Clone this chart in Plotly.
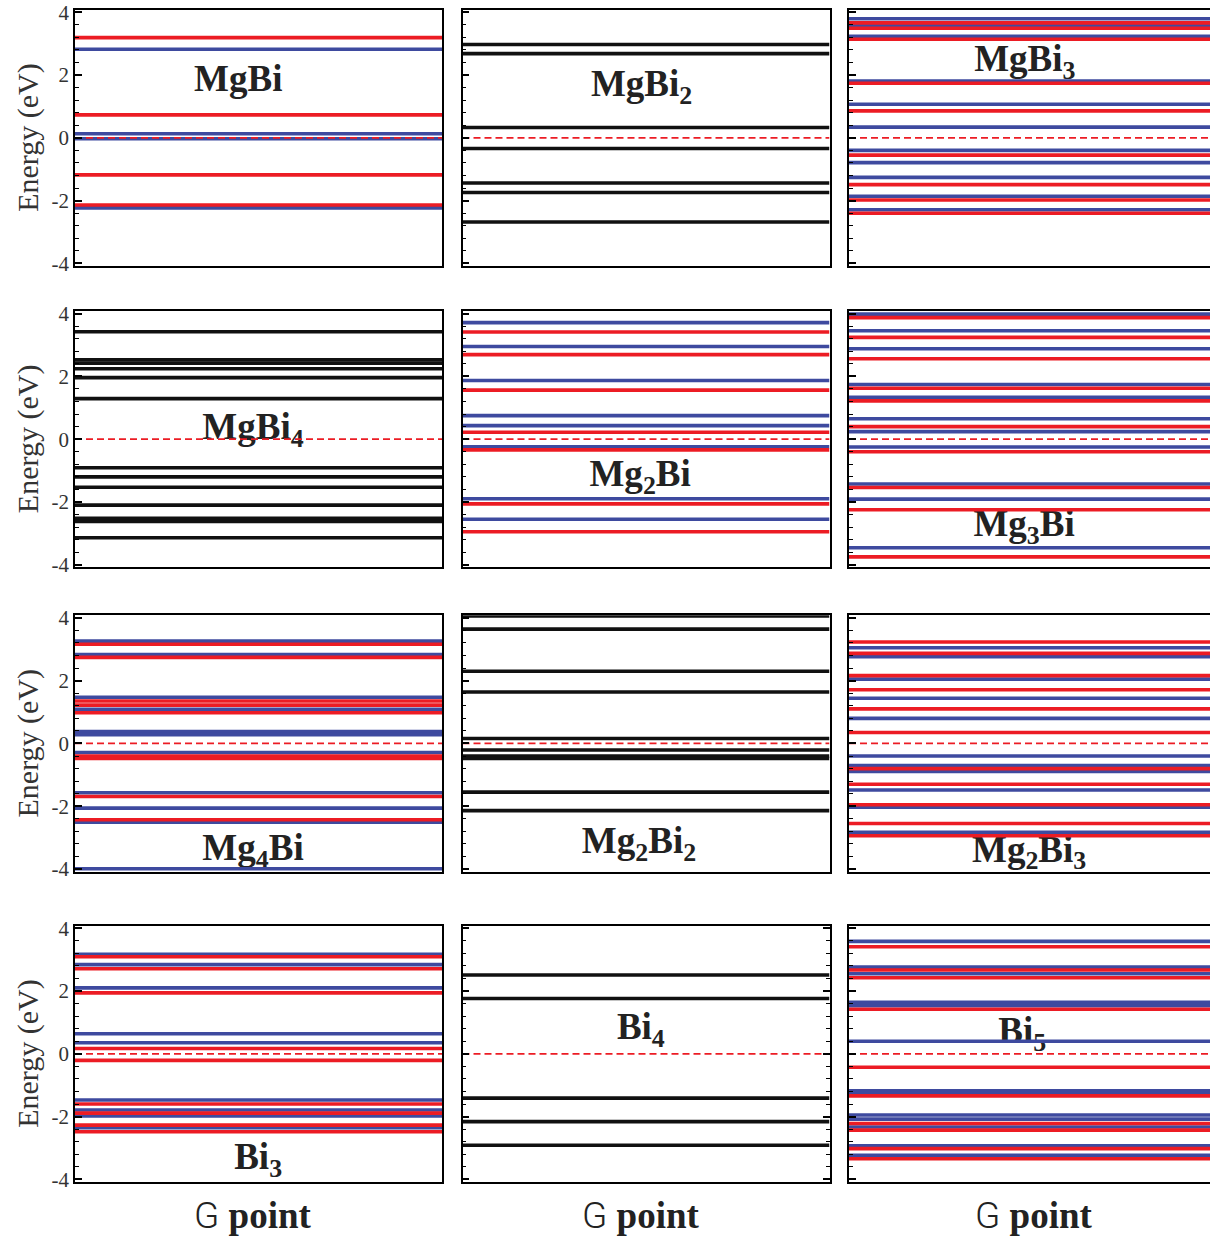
import plotly.graph_objects as go

W, H = 1210, 1236

# ---------------- data: energy levels (eV) at the G point ----------------
mgbi_red = [3.19, 0.73, -1.18, -2.14]
mgbi_blue = [2.82, 0.13, -0.03, -2.23]
mgbi2_black = [2.97, 2.68, 0.33, -0.34, -1.44, -1.74, -2.68]
mgbi3_red = [3.66, 3.49, 3.14, 1.74, 0.86, -0.55, -1.49, -1.98, -2.40]
mgbi3_blue = [3.79, 3.58, 3.23, 1.81, 1.07, 0.34, -0.40, -0.79, -1.26, -1.86, -2.29]
mgbi4_black = [3.42, 2.53, 2.42, 2.24, 1.96, 1.29, -0.91, -1.20, -1.53, -2.10, -2.52, -2.62, -3.14]
mg2bi_red = [3.41, 2.69, 1.56, 0.22, -0.34, -2.06, -2.95]
mg2bi_blue = [3.71, 2.95, 1.87, 0.75, 0.43, -0.24, -1.90, -2.55]
mg3bi_red = [3.87, 3.24, 2.56, 1.62, 1.22, 0.40, -0.40, -1.54, -2.25, -3.75]
mg3bi_blue = [3.98, 3.45, 2.88, 1.74, 1.33, 0.65, 0.24, -0.25, -1.43, -1.91, -3.46]
mg4bi_red = [3.16, 2.74, 1.35, 1.22, 0.98, -0.40, -0.48, -1.69, -2.43]
mg4bi_blue = [3.26, 2.83, 1.47, 1.09, 0.38, 0.28, -0.29, -1.57, -2.06, -2.51, -3.99]
mg2bi2_black = [4.06, 3.64, 2.30, 1.64, 0.16, -0.21, -0.40, -0.48, -1.55, -2.14]
mg2bi3_red = [3.23, 2.87, 2.16, 1.71, 1.10, 0.35, -0.80, -1.30, -1.95, -2.55, -2.94]
mg2bi3_blue = [3.05, 2.76, 2.05, 1.44, 0.80, -0.40, -0.70, -0.89, -1.48, -2.03, -2.83]
bi3_red = [3.09, 2.71, 1.94, 0.17, -0.21, -1.60, -1.89, -2.27, -2.48]
bi3_blue = [3.17, 2.84, 2.10, 0.64, 0.35, -1.47, -1.79, -1.98, -2.35]
bi4_black = [2.51, 1.76, -1.41, -2.16, -2.91]
bi5_red = [3.41, 2.67, 2.42, 1.42, -0.43, -1.34, -2.22, -2.43, -3.02, -3.34]
bi5_blue = [3.58, 2.76, 2.55, 1.64, 1.53, 0.40, -1.18, -1.26, -1.95, -2.08, -2.33, -2.93, -3.23]

compound_labels = ["MgBi", "MgBi<sub>2</sub>", "MgBi<sub>3</sub>",
                   "MgBi<sub>4</sub>", "Mg<sub>2</sub>Bi", "Mg<sub>3</sub>Bi",
                   "Mg<sub>4</sub>Bi", "Mg<sub>2</sub>Bi<sub>2</sub>", "Mg<sub>2</sub>Bi<sub>3</sub>",
                   "Bi<sub>3</sub>", "Bi<sub>4</sub>", "Bi<sub>5</sub>"]
tick_values = [-4, -2, 0, 2, 4]
tick_labels = ["-4", "-2", "0", "2", "4"]
y_title = "Energy (eV)"
x_label = "point"
x_symbol = "G"

# panel -> (red, blue, black)
panel_series = [
    (mgbi_red, mgbi_blue, None), (None, None, mgbi2_black), (mgbi3_red, mgbi3_blue, None),
    (None, None, mgbi4_black), (mg2bi_red, mg2bi_blue, None), (mg3bi_red, mg3bi_blue, None),
    (mg4bi_red, mg4bi_blue, None), (None, None, mg2bi2_black), (mg2bi3_red, mg2bi3_blue, None),
    (bi3_red, bi3_blue, None), (None, None, bi4_black), (bi5_red, bi5_blue, None),
]

# ---------------- styling / layout ----------------
RED = "#EC1C24"
BLUE = "#3E4A9F"
BLACK = "#111111"
SERIF = "Liberation Serif"


def vy(y):
    # vertical pixel placement (compensates the page capture)
    return (y - 10.3) / 0.9836


row_px = [(11, 267), (312, 568), (616, 872), (926, 1182)]
col_px = [(75, 442), (462.5, 829.5), (849, 1210)]
YR = [-4.08, 4.08]

# label positions (axes fraction x, energy y)
label_pos = [(0.445, 1.80), (0.488, 1.62), (0.487, 2.42),
             (0.485, 0.30), (0.484, -1.21), (0.485, -2.79),
             (0.485, -3.42), (0.481, -3.19), (0.499, -3.47),
             (0.499, -3.38), (0.486, 0.76), (0.480, 0.63)]


def seg(vals):
    xs, ys = [], []
    for v in vals:
        xs += [0, 1, None]
        ys += [v, v, None]
    return xs, ys


fig = go.Figure()
layout = dict(width=W, height=H, margin=dict(l=0, r=0, t=0, b=0),
              paper_bgcolor="white", plot_bgcolor="white", showlegend=False)

annotations = []
for i in range(12):
    r, c = divmod(i, 3)
    n = i + 1
    xa = "x" if n == 1 else f"x{n}"
    ya = "y" if n == 1 else f"y{n}"
    t, b = vy(row_px[r][0]), vy(row_px[r][1])
    lft, rgt = col_px[c]

    # label first so level lines draw over it
    lx, ly = label_pos[i]
    fig.add_trace(go.Scatter(x=[lx], y=[ly], xaxis=xa, yaxis=ya, mode="text",
                             text=[f"<b>{compound_labels[i]}</b>"],
                             textposition="middle center",
                             textfont=dict(family=SERIF, size=37, color="#222"),
                             hoverinfo="skip", showlegend=False))
    red, blue, black = panel_series[i]
    for vals, col in ((blue, BLUE), (red, RED), (black, BLACK)):
        if vals:
            xs, ys = seg(vals)
            fig.add_trace(go.Scatter(x=xs, y=ys, xaxis=xa, yaxis=ya, mode="lines",
                                     line=dict(color=col, width=3.6),
                                     hoverinfo="skip", showlegend=False))
    fig.add_trace(go.Scatter(x=[0, 1], y=[0, 0], xaxis=xa, yaxis=ya, mode="lines",
                             line=dict(color=RED, width=1.8, dash="7px,4px"),
                             hoverinfo="skip", showlegend=False))

    xkey = "xaxis" if n == 1 else f"xaxis{n}"
    ykey = "yaxis" if n == 1 else f"yaxis{n}"
    layout[xkey] = dict(domain=[lft / W, min(rgt / W, 1.0)], range=[0, 1], anchor=ya,
                        showline=True, mirror=True, linecolor="black", linewidth=1.6,
                        showgrid=False, zeroline=False, ticks="", showticklabels=False,
                        fixedrange=True)
    layout[ykey] = dict(domain=[max(0, 1 - b / H), min(1, 1 - t / H)], range=YR, anchor=xa,
                        showline=True, mirror=(c != 2) if i != 10 else "ticks",
                        linecolor="black", linewidth=1.6,
                        showgrid=False, zeroline=False,
                        tickmode="array", tickvals=tick_values, ticktext=tick_labels,
                        ticks="inside", ticklen=7, tickwidth=1.5, tickcolor="black",
                        minor=dict(tickmode="linear", tick0=0, dtick=0.4, ticks="inside",
                                   ticklen=4, tickwidth=1.2, tickcolor="black"),
                        showticklabels=(c == 0),
                        tickfont=dict(family=SERIF, size=21, color="#333"),
                        fixedrange=True)
    if c == 0:
        annotations.append(dict(xref="paper", yref="paper", x=28 / W,
                                y=1 - (t + b) / 2 / H, text=y_title, textangle=-90,
                                showarrow=False, xanchor="center", yanchor="middle",
                                font=dict(family=SERIF, size=30, color="#333")))
    if r == 3:
        cx = [252, 640, 1033][c]
        annotations.append(dict(xref="paper", yref="paper", x=cx / W, y=1 - vy(1216) / H,
                                text=(f'<span style="font-family:Roboto;font-weight:300">{x_symbol}</span>'
                                      f' <b>{x_label}</b>'),
                                showarrow=False, xanchor="center", yanchor="middle",
                                font=dict(family=SERIF, size=37, color="#222")))

layout["annotations"] = annotations
fig.update_layout(**layout)
fig.write_html("out.html", config={"displayModeBar": False},
               post_script="document.body.style.margin='0';"
                           "document.body.style.overflow='hidden';"
                           "document.documentElement.style.overflow='hidden';")
